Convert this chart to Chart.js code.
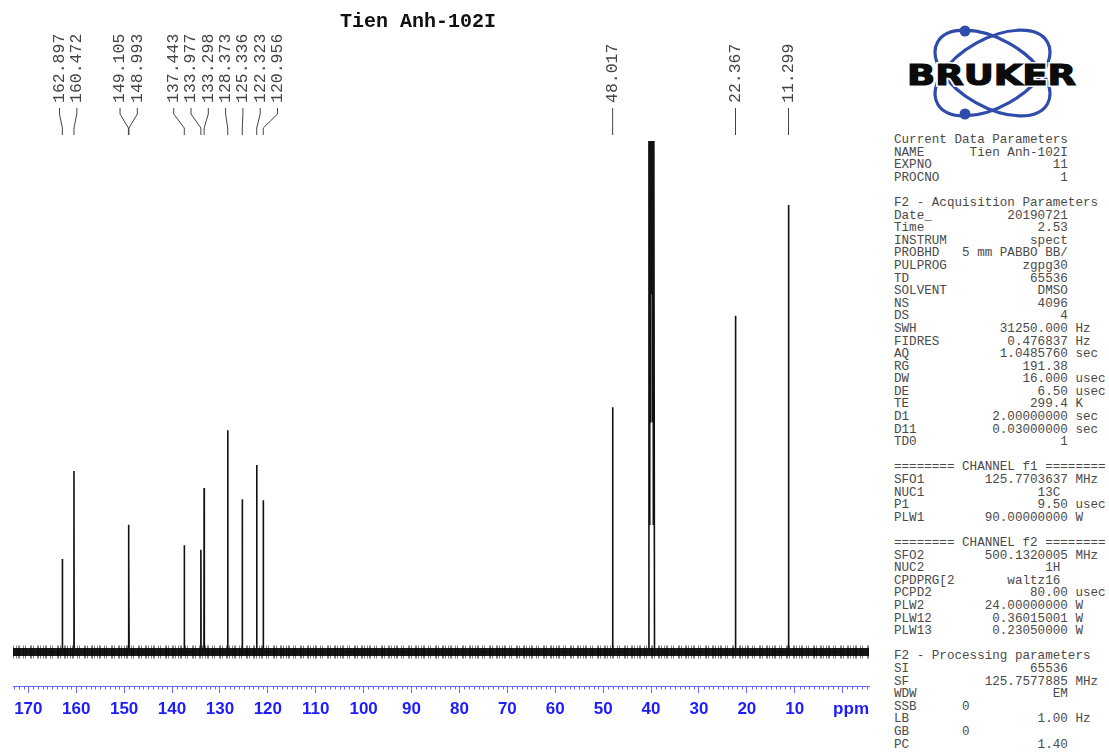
<!DOCTYPE html>
<html>
<head>
<meta charset="utf-8">
<title>Tien Anh-102I 13C</title>
<script src="https://cdn.jsdelivr.net/npm/chart.js@4.4.1/dist/chart.umd.min.js"></script>
<style>
  html, body { margin: 0; padding: 0; background: #fff; }
  #page { position: relative; width: 1109px; height: 754px; overflow: hidden; }
  #wrap { position: absolute; left: 0; top: 0; width: 880px; height: 754px; }
  #title { position: absolute; left: 340px; top: 10px; font: bold 20px/24px "Liberation Mono", monospace; color: #111; }
  #params { position: absolute; left: 894px; top: 134px; margin: 0; font: 12.6px/12.6px "Liberation Mono", monospace; color: #4a4a4a; }
  #logo { position: absolute; left: 880px; top: 0; }
</style>
</head>
<body>
<div id="page">
  <div id="wrap"><canvas id="spec"></canvas></div>
  <div id="title">Tien Anh-102I</div>
  <svg id="logo" width="229" height="130">
    <g fill="none" stroke="#2f4cab" stroke-width="3.2">
      <ellipse cx="112.5" cy="73" rx="63" ry="34" transform="rotate(29.4 112.5 73)"/>
      <ellipse cx="112.5" cy="73" rx="63" ry="34" transform="rotate(-29.4 112.5 73)"/>
    </g>
    <circle cx="85" cy="31" r="5.5" fill="#2f4cab"/>
    <circle cx="85" cy="114" r="5.5" fill="#2f4cab"/>
    <text x="27" y="85" textLength="169" lengthAdjust="spacingAndGlyphs" font-family="DejaVu Sans" font-weight="bold" font-size="28" fill="#0b0b0b" stroke="#fff" stroke-width="4" paint-order="stroke">BRUKER</text>
    <text x="27" y="85" textLength="169" lengthAdjust="spacingAndGlyphs" font-family="DejaVu Sans" font-weight="bold" font-size="28" fill="#0b0b0b" stroke="#0b0b0b" stroke-width="1.2">BRUKER</text>
  </svg>
  <pre id="params"></pre>
</div>
<script>
// picked 13C peaks: shift in ppm and plotted intensity
const peakPpm = [162.897, 160.472, 149.105, 148.993, 137.443, 133.977, 133.298,
                 128.373, 125.336, 122.323, 120.956, 48.017, 22.367, 11.299];
const peakHeight = [18.2, 35.4, 24.9, 18.6, 20.9, 20.0, 32.1,
                    43.4, 29.9, 36.6, 29.7, 47.9, 65.8, 87.5];

// DMSO-d6 septet, peaks and valleys (centre lines run off the top)
const dmsoPpm = [40.60, 40.44, 40.36, 40.27, 40.19, 40.11, 40.02, 39.94,
                 39.86, 39.77, 39.69, 39.61, 39.52, 39.44, 39.28];
const dmsoHeight = [0, 120, 25, 220, 45, 420, 70, 520,
                    70, 420, 45, 220, 25, 120, 0];

const ppmTicks = [170, 160, 150, 140, 130, 120, 110, 100, 90, 80, 70, 60, 50, 40, 30, 20, 10, 0];
const ppmMin = -5.5;
const ppmMax = 173.2;

const peakLabels = peakPpm.map(v => v.toFixed(3));

// acquisition / processing listing: [name, value, unit, column where value ends]
const paramRows = [
  ['Current Data Parameters'],
  ['NAME', 'Tien Anh-102I'], ['EXPNO', '11'], ['PROCNO', '1'],
  [],
  ['F2 - Acquisition Parameters'],
  ['Date_', '20190721'], ['Time', '2.53'], ['INSTRUM', 'spect'],
  ['PROBHD', '5 mm PABBO BB/'], ['PULPROG', 'zgpg30'], ['TD', '65536'],
  ['SOLVENT', 'DMSO'], ['NS', '4096'], ['DS', '4'],
  ['SWH', '31250.000', 'Hz'], ['FIDRES', '0.476837', 'Hz'], ['AQ', '1.0485760', 'sec'],
  ['RG', '191.38'], ['DW', '16.000', 'usec'], ['DE', '6.50', 'usec'],
  ['TE', '299.4', 'K'], ['D1', '2.00000000', 'sec'], ['D11', '0.03000000', 'sec'],
  ['TD0', '1'],
  [],
  ['======== CHANNEL f1 ========'],
  ['SFO1', '125.7703637', 'MHz'], ['NUC1', '13C', '', 22], ['P1', '9.50', 'usec'],
  ['PLW1', '90.00000000', 'W'],
  [],
  ['======== CHANNEL f2 ========'],
  ['SFO2', '500.1320005', 'MHz'], ['NUC2', '1H', '', 22], ['CPDPRG[2', 'waltz16', '', 22],
  ['PCPD2', '80.00', 'usec'], ['PLW2', '24.00000000', 'W'],
  ['PLW12', '0.36015001', 'W'], ['PLW13', '0.23050000', 'W'],
  [],
  ['F2 - Processing parameters'],
  ['SI', '65536'], ['SF', '125.7577885', 'MHz'], ['WDW', 'EM'],
  ['SSB', '0', '', 10], ['LB', '1.00', 'Hz'], ['GB', '0', '', 10], ['PC', '1.40']
];

document.getElementById('params').textContent = paramRows.map(r => {
  if (r.length === 0) return '';
  if (r.length === 1) return r[0];
  const [name, value, unit, end] = r;
  const line = name.padEnd((end || 23) - value.length) + value;
  return unit ? line + ' ' + unit : line;
}).join('\n');

// one trace: flat baseline with narrow spikes at every line
const trace = [{x: ppmMax, y: 0}, {x: ppmMin, y: 0}];
peakPpm.forEach((p, i) => {
  trace.push({x: p + 0.04, y: 0}, {x: p, y: peakHeight[i]}, {x: p - 0.04, y: 0});
});
dmsoPpm.forEach((p, i) => trace.push({x: p, y: dmsoHeight[i]}));
trace.sort((a, b) => b.x - a.x);

const baseline = [{x: ppmMax, y: 0}, {x: ppmMin, y: 0}];

const tickBlue = '#6464ff';
const labelBlue = '#1c1cff';

// spread labels so they don't collide, groups stay centred on their peaks
function spread(xs, gap) {
  let groups = xs.map(x => ({n: 1, sum: x, start: x}));
  let again = true;
  while (again) {
    again = false;
    for (let i = 0; i < groups.length - 1; i++) {
      const a = groups[i], b = groups[i + 1];
      if (a.start + a.n * gap > b.start) {
        const n = a.n + b.n, sum = a.sum + b.sum;
        groups.splice(i, 2, {n, sum, start: sum / n - (n - 1) * gap / 2});
        again = true;
        break;
      }
    }
  }
  const out = [];
  groups.forEach(g => { for (let k = 0; k < g.n; k++) out.push(g.start + k * gap); });
  return out;
}

const decorations = {
  id: 'decorations',
  afterDraw(chart) {
    const ctx = chart.ctx;
    const xs = chart.scales.x;
    const area = chart.chartArea;

    // minor ticks every 1 ppm
    ctx.save();
    ctx.strokeStyle = tickBlue;
    ctx.lineWidth = 1;
    ctx.beginPath();
    for (let v = Math.ceil(ppmMin); v <= Math.floor(ppmMax); v++) {
      if (v % 10 === 0) continue;
      const x = Math.round(xs.getPixelForValue(v)) + 0.5;
      ctx.moveTo(x, area.bottom);
      ctx.lineTo(x, area.bottom + 3.5);
    }
    ctx.stroke();

    // unit label sits at the right end of the axis
    ctx.fillStyle = labelBlue;
    ctx.font = 'bold 17px "Liberation Sans", Arial, sans-serif';
    ctx.textAlign = 'right';
    ctx.textBaseline = 'middle';
    ctx.fillText('ppm', area.right, area.bottom + 23);
    ctx.restore();

    // peak labels with leader lines
    const px = peakPpm.map(p => xs.getPixelForValue(p));
    const lx = spread(px, 17.3);
    ctx.save();
    ctx.strokeStyle = '#444';
    ctx.fillStyle = '#444';
    ctx.lineWidth = 1;
    ctx.font = '16.5px "Liberation Mono", monospace';
    peakLabels.forEach((txt, i) => {
      ctx.save();
      ctx.translate(lx[i], 103);
      ctx.rotate(-Math.PI / 2);
      ctx.textAlign = 'left';
      ctx.textBaseline = 'middle';
      ctx.fillText(txt, 0, 0);
      ctx.restore();
      ctx.beginPath();
      ctx.moveTo(lx[i], 108);
      ctx.lineTo(lx[i], 114);
      ctx.lineTo(px[i], 128);
      ctx.lineTo(px[i], 135);
      ctx.stroke();
    });
    ctx.restore();
  }
};

new Chart(document.getElementById('spec'), {
  type: 'line',
  data: {
    datasets: [
      {
        // ragged noise fringe around the baseline
        data: baseline, borderColor: 'rgba(0,0,0,0.5)', borderWidth: 13,
        borderDash: [1, 2, 1, 1, 2, 3, 1, 1, 1, 4, 2, 1, 1, 3, 2, 1], pointRadius: 0, order: 3
      },
      {
        data: baseline, borderColor: 'rgba(0,0,0,0.9)', borderWidth: 8,
        pointRadius: 0, order: 2
      },
      {
        data: trace, borderColor: '#111', borderWidth: 1.6,
        pointRadius: 0, tension: 0, order: 1
      }
    ]
  },
  options: {
    responsive: true,
    maintainAspectRatio: false,
    animation: false,
    events: [],
    layout: { padding: { left: 13, right: 11, top: 141, bottom: 28.6 } },
    plugins: { legend: { display: false }, tooltip: { enabled: false }, title: { display: false } },
    scales: {
      x: {
        type: 'linear',
        reverse: true,
        min: ppmMin,
        max: ppmMax,
        afterBuildTicks: scale => { scale.ticks = ppmTicks.map(v => ({value: v})); },
        ticks: {
          autoSkip: false,
          maxRotation: 0,
          padding: 6,
          color: labelBlue,
          font: { family: '"Liberation Sans", Arial, sans-serif', weight: 'bold', size: 17 },
          callback: v => (v === 0 ? '' : String(v))
        },
        grid: { drawOnChartArea: false, drawTicks: true, tickLength: 7, color: tickBlue, lineWidth: 1 },
        border: { display: true, color: tickBlue, width: 1 }
      },
      y: {
        display: false,
        min: -6.65,
        max: 100
      }
    }
  },
  plugins: [decorations]
});
</script>
</body>
</html>
